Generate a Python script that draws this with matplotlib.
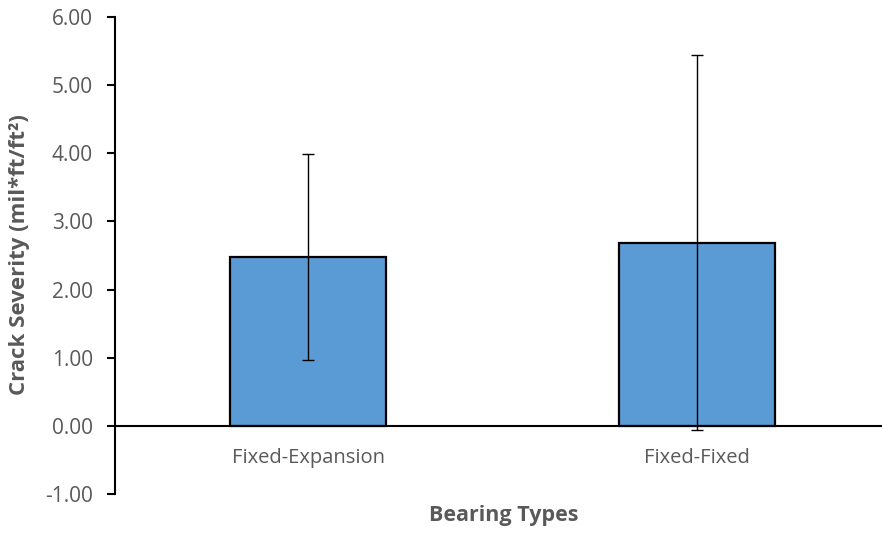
import matplotlib
matplotlib.use("Agg")
import matplotlib.pyplot as plt

categories = ["Fixed-Expansion", "Fixed-Fixed"]
values = [2.48, 2.69]
errors = [1.51, 2.75]
yticks = [-1, 0, 1, 2, 3, 4, 5, 6]

plt.rcParams['font.family'] = ['Open Sans', 'DejaVu Sans']

W, H = 882, 533
fig = plt.figure(figsize=(W/100, H/100), dpi=100)
left_px, right_px, top_px, bot_px = 115, 882, 17, 494
ax = fig.add_axes([left_px/W, 1-bot_px/H, (right_px-left_px)/W, (bot_px-top_px)/H])

x = list(range(len(categories)))
ax.bar(x, values, width=0.40, color='#5B9BD5', edgecolor='black', linewidth=1.6, zorder=2)
ax.errorbar(x, values, yerr=errors, fmt='none', ecolor='black', elinewidth=1.0,
            capsize=4.5, capthick=1.0, zorder=3)

ax.set_xlim((left_px-308)/389, (right_px-308)/389)
ax.set_ylim(-1, 6)
ax.set_yticks(yticks)
ax.set_yticklabels([f"{v:.2f}" for v in yticks])
ax.set_xticks(x)
ax.set_xticklabels(categories)

for s in ['top', 'right']:
    ax.spines[s].set_visible(False)
ax.spines['bottom'].set_position(('data', 0))
ax.spines['bottom'].set_linewidth(1.5)
ax.spines['left'].set_linewidth(1.5)
ax.spines['bottom'].set_zorder(4)

ax.tick_params(axis='y', direction='out', length=6, width=1.5, labelsize=15,
               labelcolor='#595959', pad=10)
ax.tick_params(axis='x', length=0, labelsize=14.5, labelcolor='#595959', pad=16)

fig.text(20/W, 1-255/H, "Crack Severity (mil*ft/ft²)", fontsize=16,
         fontweight='bold', color='#595959', ha='center', va='center', rotation=90)
fig.text(503.5/W, 1-515/H, "Bearing Types", fontsize=15.5,
         fontweight='bold', color='#595959', ha='center', va='center')

fig.savefig("out.png", dpi=100)
